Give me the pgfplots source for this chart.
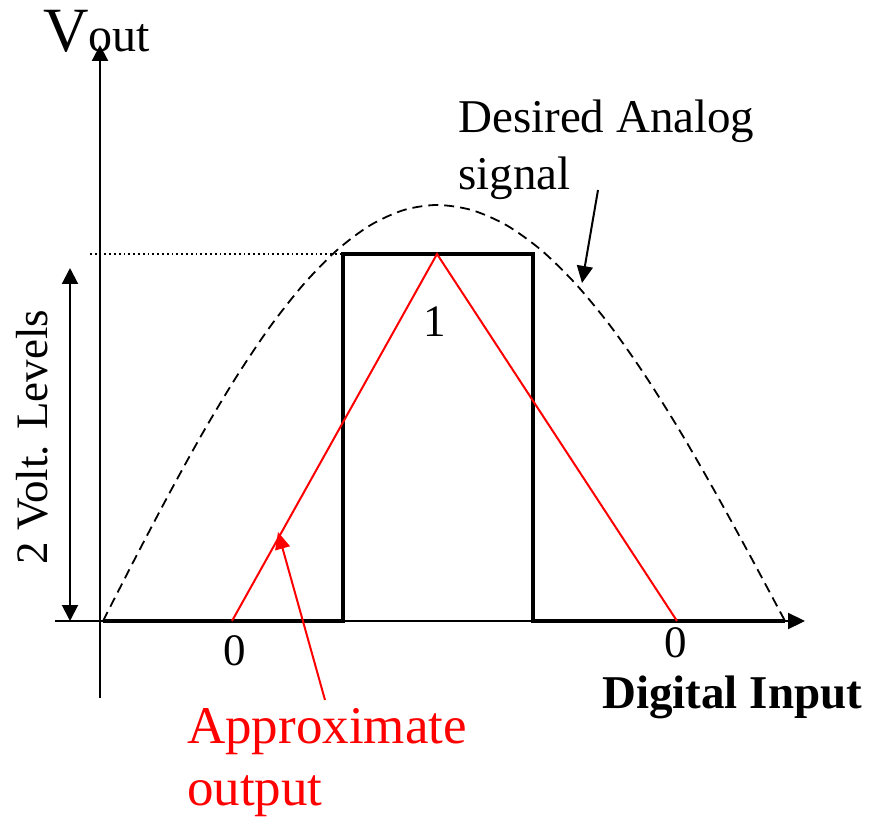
\documentclass[border=0pt]{standalone}
\usepackage{fontspec}
\setmainfont{Liberation Serif}
\usepackage{pgfplots}
\pgfplotsset{compat=1.18}
\usetikzlibrary{arrows.meta}
\begin{document}
\begin{tikzpicture}
\begin{axis}[
  scale only axis, width=872pt, height=817pt,
  xmin=-100, xmax=772, ymin=-196, ymax=621,
  hide axis, clip=false,
]
% bounding box
\addplot[draw=none] coordinates {(-100,-196) (772,621)};
% axes
\addplot[black, line width=2.2pt, -{Triangle[length=16pt,width=16pt]}] coordinates {(0,-77) (0,576)};
\addplot[black, line width=2.2pt, -{Triangle[length=17pt,width=16pt]}] coordinates {(-45,0) (705,0)};
% dotted level line
\addplot[black, line width=1.8pt, dash pattern=on 1.8pt off 3pt] coordinates {(-10,367) (243,367)};
% desired analog signal (dashed)
\addplot[black, line width=1.8pt, dash pattern=on 10pt off 6pt, smooth] coordinates {
 (3,0) (36.4,65.1) (69.8,128.5) (103.2,188.9) (136.6,244.5) (170,294.2) (203.4,336.5)
 (236.8,370.7) (270.2,395.7) (303.6,410.9) (337,416)
 (371.8,410.9) (406.6,395.7) (441.4,370.7) (476.2,336.5) (511,294.2) (545.8,244.5)
 (580.6,188.9) (615.4,128.5) (650.2,65.1) (685,0)};
% digital step
\addplot[black, line width=4.5pt, line join=miter] coordinates {(3,0) (243,0) (243,367) (433,367) (433,0) (685,0)};
% approximate output (red)
\addplot[red, line width=2pt] coordinates {(132,0) (337,367) (577,0)};
% double arrow for voltage levels
\addplot[black, line width=2pt, {Triangle[length=16pt,width=16pt]}-{Triangle[length=16pt,width=16pt]}] coordinates {(-30,0) (-30,353)};
% arrow to desired signal
\addplot[black, line width=2pt, -{Triangle[length=17pt,width=16pt]}] coordinates {(498,431) (482,338)};
% arrow to approximate output
\addplot[red, line width=2pt, -{Triangle[length=17pt,width=15pt]}] coordinates {(225,-79) (178,89)};
% texts
\node[anchor=base west, inner sep=0pt] at (axis cs:-57,569) {{\fontsize{63}{63}\selectfont V}{\fontsize{48}{48}\selectfont out}};
\node[anchor=base west, inner sep=0pt] at (axis cs:358,488) {\fontsize{47}{57}\selectfont Desired Analog};
\node[anchor=base west, inner sep=0pt] at (axis cs:358,431) {\fontsize{47}{57}\selectfont signal};
\node[anchor=base, inner sep=0pt] at (axis cs:335,284) {\fontsize{45}{45}\selectfont 1};
\node[anchor=base, inner sep=0pt] at (axis cs:135,-44) {\fontsize{45}{45}\selectfont 0};
\node[anchor=base, inner sep=0pt] at (axis cs:576,-36) {\fontsize{45}{45}\selectfont 0};
\node[anchor=base west, inner sep=0pt] at (axis cs:502,-87) {\fontsize{47}{47}\selectfont\bfseries Digital Input};
\node[anchor=base west, inner sep=0pt, text=red] at (axis cs:87,-122) {\fontsize{53}{53}\selectfont Approximate};
\node[anchor=base west, inner sep=0pt, text=red] at (axis cs:87,-184) {\fontsize{53}{53}\selectfont output};
\node[anchor=base, inner sep=0pt, rotate=90] at (axis cs:-53,184) {\fontsize{45}{45}\selectfont 2 Volt. Levels};
\end{axis}
\end{tikzpicture}
\end{document}
